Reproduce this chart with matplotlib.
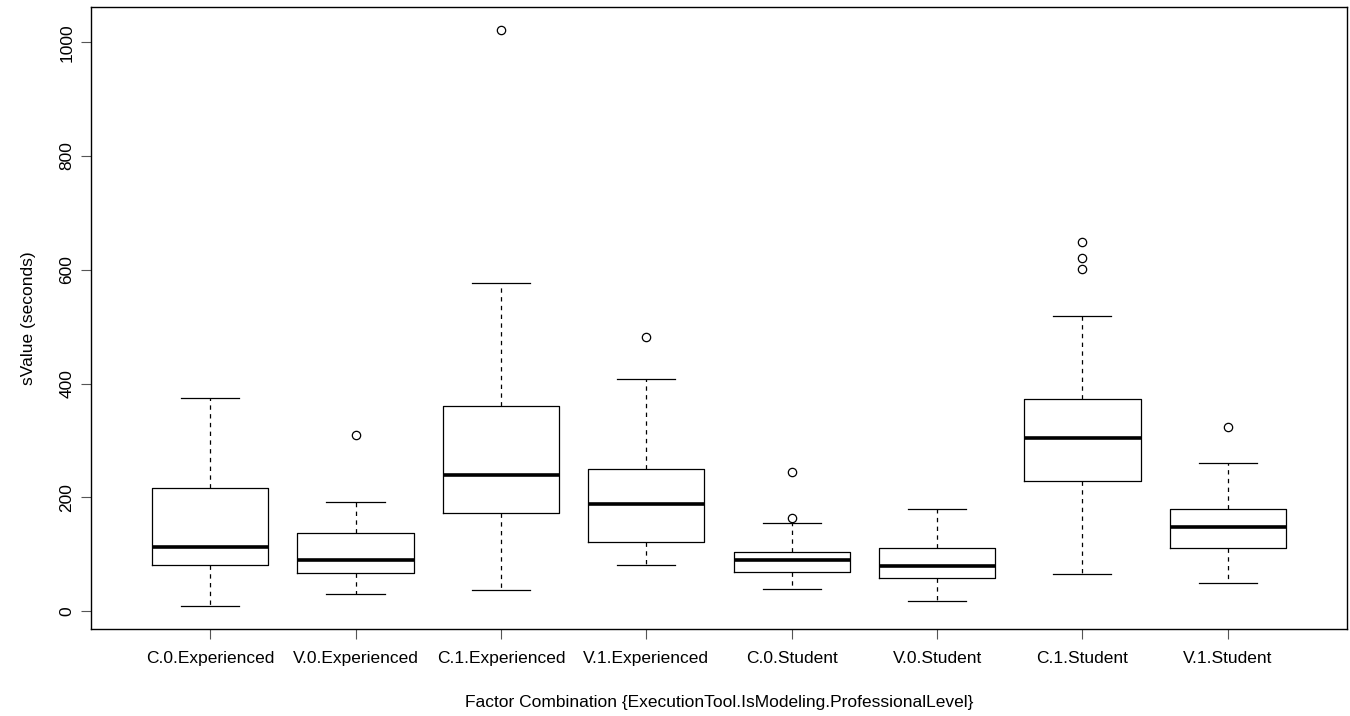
import numpy as np
import matplotlib
matplotlib.use("Agg")
import matplotlib.pyplot as plt

plt.rcParams['font.family'] = ['Liberation Sans', 'DejaVu Sans']

# groups in the order they are drawn
groups = ['C.0.Experienced', 'V.0.Experienced', 'C.1.Experienced', 'V.1.Experienced',
          'C.0.Student', 'V.0.Student', 'C.1.Student', 'V.1.Student']

# five number summaries (seconds)
whislo = [9, 30, 37, 81, 39, 18, 65, 49]
q1 = [81, 66, 173, 122, 68, 58, 229, 110]
med = [113, 89, 240, 189, 89, 79, 304, 147]
q3 = [216, 138, 361, 250, 103, 110, 373, 179]
whishi = [375, 192, 576, 408, 155, 179, 519, 261]
fliers = [[], [310], [1021], [482], [245, 163], [], [649, 620, 602], [323]]

stats = []
for i in range(len(groups)):
    stats.append(dict(label=groups[i], whislo=whislo[i], q1=q1[i], med=med[i],
                      q3=q3[i], whishi=whishi[i], fliers=fliers[i]))

fig = plt.figure(figsize=(13.5, 7.16), dpi=100)
ax = fig.add_axes([91/1350, 1-629/716, (1347-91)/1350, (629-7)/716])

lw = 0.9
ax.bxp(stats, positions=np.arange(1, 9), widths=0.8, capwidths=0.4,
       boxprops=dict(color='black', linewidth=lw),
       whiskerprops=dict(color='black', linewidth=lw, linestyle=(0, (3.5, 3.5))),
       capprops=dict(color='black', linewidth=lw),
       medianprops=dict(color='black', linewidth=2.6, solid_capstyle='butt'),
       flierprops=dict(marker='o', markerfacecolor='none', markeredgecolor='black',
                       markersize=6, markeredgewidth=0.9))

ax.set_xlim(0.18, 8.82)
ax.set_ylim(-31.6, 1062)
ax.set_yticks([0, 200, 400, 600, 800, 1000])
ax.set_xticks(np.arange(1, 9))
ax.set_xticklabels(groups)
ax.tick_params(axis='both', length=7, width=0.8, labelsize=12.5, color='#555555')
ax.tick_params(axis='x', pad=9)
ax.tick_params(axis='y', pad=5)
for lab in ax.get_yticklabels():
    lab.set_rotation(90)
    lab.set_va('center')
for s in ax.spines.values():
    s.set_linewidth(1.0)

ax.set_ylabel('sValue (seconds)', fontsize=12.5, labelpad=17)
ax.set_xlabel('Factor Combination {ExecutionTool.IsModeling.ProfessionalLevel}',
              fontsize=12.5, labelpad=21)

fig.savefig('out.png', dpi=100)
